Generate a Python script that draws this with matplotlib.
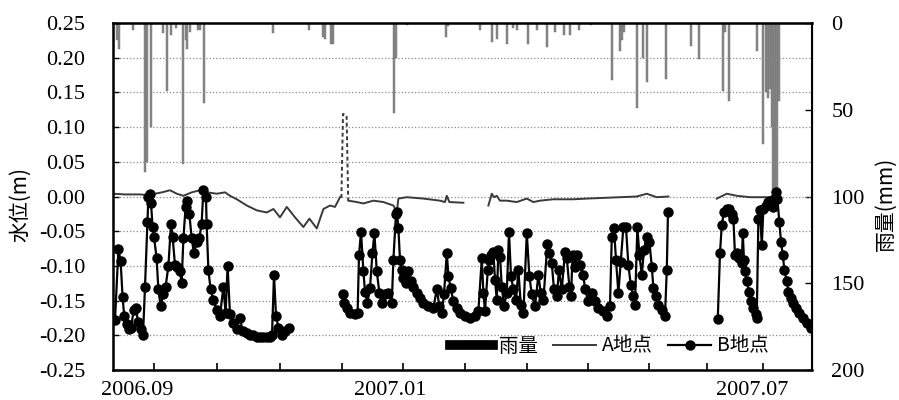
import numpy as np
import matplotlib
matplotlib.use('Agg')
import matplotlib.pyplot as plt
from matplotlib.lines import Line2D

plt.rcParams['font.family'] = ['Liberation Serif', 'Noto Sans CJK JP']
cjk = ['Noto Sans CJK JP', 'DejaVu Sans']

## x values are days counted from 2006-08-12 (left edge of the chart)
month_tick_days = [20.5, 52, 83.5, 114.5, 145, 176, 207, 237.5, 268, 297, 325]
label_days = [12, 138.5, 319.5]
label_text = ['2006.09', '2007.01', '2007.07']
level_ticks = [-0.25, -0.20, -0.15, -0.10, -0.05, 0.00, 0.05, 0.10, 0.15, 0.20, 0.25]
rain_ticks = [0, 50, 100, 150, 200]

## rainfall (mm)
rain_day = np.array([2, 3, 10, 16, 17, 19, 25, 27, 29, 31.5, 35, 36.5, 37, 38.5, 42.5, 43.5, 45.5,
                     80, 98, 105, 106, 109, 110, 140.5, 141.5, 147, 166.5, 167.5, 183.5, 189.5,
                     192, 197, 200, 202, 207.5, 212, 217, 221, 225.5, 228.5, 233, 239, 249.5,
                     253.5, 254.5, 255.5, 262, 265, 267, 276.5, 289, 293, 305, 306, 308, 322,
                     325, 326.5, 327.5, 328.5, 329.5, 330, 331, 332, 333])
rain_mm = np.array([10, 15, 4, 86, 80, 60, 6, 39, 7, 3, 81, 10, 15, 5, 4, 4, 46,
                    6, 4, 8, 9, 12, 12, 52, 20, 1, 8, 2, 4, 11,
                    9, 12, 3, 4, 12, 4, 14, 5, 7, 7, 4, 1, 33,
                    16, 10, 5, 49, 20, 34, 32, 13, 21, 39, 5, 45, 16,
                    70, 40, 43, 38, 60, 98, 99, 99, 45])

## water level at point A (m), nan = no data
a_day = np.array([0, 6, 13.5, 16.9, 21, 24.5, 28.5, 31.9, 35.2, 39.4, 43.5, 46.9, 51.9, 56, 58.5,
                  61.9, 66.9, 71.9, 76.9, 80.2, 83.5, 86.9, 91, 95.2, 98.2, 101.9, 105.2, 108.5,
                  111, 113.5, 114.0,
                  117.7, 121.9, 125.2, 130.2, 135.2, 140.2, 141.9, 142.7, 146.9, 155.2, 163.5,
                  166, 166.9, 168.2, 175.2, 176,
                  187.7, 189.4, 190.5, 191.9, 193.5, 196.9, 201.9, 206.9, 210.2, 213.5, 220.2,
                  230.2, 236.9, 245.2, 253.5, 261.9, 266.9, 271.9, 277.7, 280,
                  301.9, 306.9, 311.9, 318.5, 325.2, 329.4])
a_val = np.array([0.004, 0.003, 0.003, 0.002, 0.004, 0.006, 0.009, 0.004, 0.001, 0.006, 0.009,
                  0.006, 0.004, 0.006, 0.001, -0.004, -0.013, -0.020, -0.023, -0.018, -0.030,
                  -0.015, -0.030, -0.044, -0.032, -0.046, -0.018, -0.013, -0.015, -0.001, np.nan,
                  -0.006, -0.008, -0.010, -0.006, -0.008, -0.013, -0.022, -0.003, -0.001, -0.003,
                  -0.006, -0.008, 0.001, -0.008, -0.009, np.nan,
                  -0.013, 0.004, -0.001, 0.001, -0.006, -0.006, -0.008, -0.003, -0.008, -0.006,
                  -0.004, -0.004, -0.003, -0.002, -0.001, 0.000, 0.004, -0.001, 0.000, np.nan,
                  -0.003, 0.004, 0.001, -0.001, -0.001, -0.001])
## point A, short doubtful stretch (dashed)
a_dash_day = np.array([114.2, 115.0, 116.8, 117.6])
a_dash_val = np.array([-0.002, 0.119, 0.117, -0.006])

## water level at point B (m)
b_day = np.array([1, 2.7, 3.8, 4.8, 5.6, 6.8, 8, 9, 10.4, 11.5, 12.5, 13.8, 15, 16, 17.2, 17.7,
                  18.5, 19, 19.8, 20.5, 21.8, 22.7, 23.8, 25.2, 26.3, 27.7, 29, 29.8, 31, 31.8,
                  33.5, 34.3, 35.2, 36.3, 37.2, 38.2, 39.3, 40.5, 41.8, 43.2, 44.3, 45.2, 46.5,
                  46.8, 47.7, 48.8, 50.2, 51.8, 53.5, 55.2, 56.3, 57.3, 58.5, 59.8, 61.8, 63.5,
                  64.8, 66.8, 68.5, 70.2, 71.8, 73.5, 75.2, 76.8, 78.5, 79.5, 80.5, 81.5, 82.7,
                  84.3, 86, 88.2, 100,
                  114.9, 115.5, 116.9, 118.5, 121, 122.3, 123, 124, 125.2, 126, 127.2, 128.5,
                  129.7, 130.7, 131.9, 133.2, 134.4, 136, 137.7, 139.4, 140.2, 141.5, 141.9,
                  142.7, 143.5, 144.4, 145.2, 146.5, 147.7, 148.9, 150.2, 151.9, 153.5, 155.2,
                  157.7, 160.2, 161.9, 163.2, 164.4, 165.5, 166.9, 167.7, 168.9, 170.2, 171.9,
                  173.5, 176, 178.5, 181, 182.7, 184.4, 185.2, 186, 187.4, 188.2, 189, 190.2,
                  191, 191.9, 192.7, 193.5, 194.4, 195.5, 196.9, 198, 199, 200.2, 201.5, 202.7,
                  203.9, 205.2, 206.9, 208.2, 209.4, 211, 212.7, 213.9, 215.2, 217.2, 218.2,
                  219.4, 220.5, 221.9, 223, 224.4, 226, 226.9, 228.2, 229, 229.8, 231, 232,
                  233.5, 235.2, 236, 237.7, 239.4, 241, 242.7, 244.9, 246.9, 248.5, 249.4,
                  250.5, 251.5, 252.7, 253.9, 255.2, 256.5, 257.7, 258.9, 260.2, 261, 262.2,
                  263.2, 264.4, 265.5, 266.9, 268.2, 269.4, 270.2, 271.5, 272.7, 274.4, 276,
                  276.9, 277.5, 290,
                  302.4, 303.5, 304.4, 305.5, 306.9, 308.2, 309.4, 310.2, 311, 312.2, 313.2,
                  314.4, 314.9, 315.5, 316, 316.9, 318, 319, 320.2, 321.4, 321.9, 322.7, 323.5,
                  324.4, 325.2, 326.5, 327.7, 328.5, 329.9, 330.7, 331.5, 332.2, 333.2, 334,
                  334.9, 335.7, 336.9, 337.7, 338.9, 340.2, 341.5, 343.2, 344.9, 346.9, 348.9])
b_val = np.array([-0.178, -0.076, -0.093, -0.145, -0.172, -0.184, -0.191, -0.189, -0.163, -0.161,
                  -0.181, -0.191, -0.200, -0.130, -0.037, 0.000, 0.003, -0.010, -0.044, -0.058,
                  -0.089, -0.134, -0.158, -0.141, -0.130, -0.100, -0.039, -0.058, -0.099, -0.101,
                  -0.108, -0.125, -0.060, -0.015, -0.006, -0.025, -0.060, -0.082, -0.065, -0.060,
                  -0.039, 0.009, 0.000, -0.039, -0.106, -0.134, -0.149, -0.163, -0.172, -0.130,
                  -0.168, -0.100, -0.170, -0.182, -0.191, -0.175, -0.194, -0.196, -0.199, -0.200,
                  -0.202, -0.203, -0.203, -0.203, -0.202, -0.200, -0.113, -0.172, -0.189, -0.199,
                  -0.194, -0.189, np.nan,
                  -0.140, -0.153, -0.160, -0.168, -0.170, -0.168, -0.085, -0.051, -0.108, -0.137,
                  -0.153, -0.132, -0.082, -0.053, -0.108, -0.139, -0.153, -0.141, -0.139, -0.153,
                  -0.091, -0.025, -0.022, -0.046, -0.091, -0.106, -0.118, -0.125, -0.108, -0.122,
                  -0.130, -0.139, -0.146, -0.153, -0.158, -0.160, -0.134, -0.158, -0.168, -0.141,
                  -0.081, -0.115, -0.132, -0.151, -0.160, -0.168, -0.172, -0.175, -0.172, -0.165,
                  -0.089, -0.139, -0.165, -0.106, -0.091, -0.084, -0.080, -0.120, -0.149, -0.077,
                  -0.087, -0.130, -0.158, -0.139, -0.051, -0.115, -0.134, -0.149, -0.106, -0.156,
                  -0.168, -0.053, -0.115, -0.141, -0.158, -0.113, -0.139, -0.149, -0.068, -0.082,
                  -0.096, -0.134, -0.144, -0.106, -0.134, -0.080, -0.089, -0.130, -0.144, -0.084,
                  -0.101, -0.084, -0.099, -0.113, -0.134, -0.151, -0.139, -0.151, -0.160, -0.165,
                  -0.172, -0.158, -0.058, -0.046, -0.091, -0.139, -0.094, -0.044, -0.044, -0.099,
                  -0.127, -0.144, -0.156, -0.044, -0.084, -0.113, -0.077, -0.058, -0.065, -0.101,
                  -0.132, -0.144, -0.156, -0.163, -0.172, -0.106, -0.023, np.nan,
                  -0.176, -0.082, -0.041, -0.022, -0.018, -0.018, -0.025, -0.032, -0.084, -0.082,
                  -0.089, -0.096, -0.053, -0.091, -0.108, -0.122, -0.137, -0.151, -0.160, -0.170,
                  -0.175, -0.032, -0.020, -0.070, -0.018, -0.013, -0.008, -0.006, -0.015, -0.003,
                  0.006, -0.003, -0.037, -0.065, -0.084, -0.106, -0.122, -0.137, -0.146, -0.153,
                  -0.160, -0.168, -0.175, -0.182, -0.189])

fig = plt.figure(figsize=(8.99, 4.0), dpi=100)
ax = fig.add_axes([0.1257, 0.075, 0.7775, 0.8675])
ax2 = ax.twinx()

# rain bars hang from the top of the frame
ax2.bar(rain_day, rain_mm, width=0.6, color='#8a8a8a', edgecolor='#6a6a6a', linewidth=0.3)
ax2.set_ylim(200, 0)
ax2.set_yticks(rain_ticks)
ax2.tick_params(axis='y', direction='in', length=5, width=1, pad=14, labelsize=16)
ax2.set_ylabel('雨量(mm)', family=cjk, fontsize=15)
ax2.yaxis.set_label_coords(1.089, 0.478)

# water level lines drawn above the bars
ax.set_zorder(ax2.get_zorder() + 1)
ax.patch.set_visible(False)
ax.plot(a_day, a_val, color='#3a3a3a', lw=1.4)
ax.plot(a_dash_day, a_dash_val, color='#3a3a3a', lw=1.4, ls=(0, (2, 1.5)))
ax.plot(b_day, b_val, color='black', lw=1.6, marker='o', ms=6.5)

ax.set_xlim(0, 349.5)
ax.set_ylim(-0.25, 0.25)
ax.set_yticks(level_ticks)
ax.set_yticklabels(['%.2f' % v for v in level_ticks])
ax.yaxis.grid(True, ls=':', color='#8c8c8c', lw=0.9)
ax.tick_params(axis='y', direction='in', length=4, width=1, pad=20, labelsize=16)
ax.set_ylabel('水位(m)', family=cjk, fontsize=15)
ax.yaxis.set_label_coords(-0.117, 0.478)

ax.set_xticks(label_days)
ax.set_xticklabels(label_text)
ax.set_xticks(month_tick_days, minor=True)
ax.tick_params(axis='x', which='major', length=0, pad=8, labelsize=16)
ax.tick_params(axis='x', which='minor', direction='in', length=5, width=1.2)

for sp in ax.spines.values():
    sp.set_linewidth(1.8)
ax.spines['right'].set_linewidth(1.5)

handles = [Line2D([], [], color='black', lw=7),
           Line2D([], [], color='#3a3a3a', lw=1.4),
           Line2D([], [], color='black', lw=1.6, marker='o', ms=6.5)]
ax.legend(handles, ['雨量', 'A地点', 'B地点'], loc='center', bbox_to_anchor=(0.71, 0.069),
          ncol=3, frameon=False, prop={'family': cjk, 'size': 14},
          handlelength=2.2, handletextpad=0.3, columnspacing=0.8)

plt.savefig('out.png', dpi=100)
